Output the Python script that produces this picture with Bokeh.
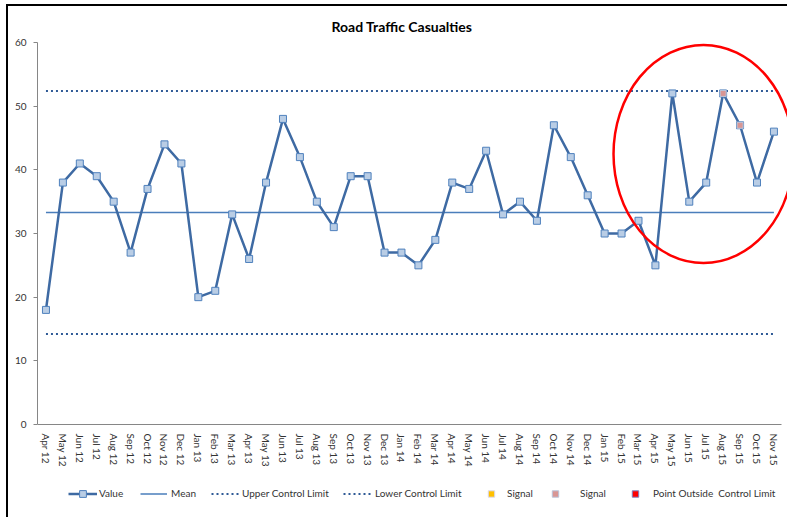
from bokeh.plotting import figure
from bokeh.models import Range1d, FixedTicker, Legend, LegendItem
from bokeh.embed import file_html
from bokeh.resources import INLINE

NAN = float("nan")

# ---- data -------------------------------------------------------------
months = ["Apr 12", "May 12", "Jun 12", "Jul 12", "Aug 12", "Sep 12", "Oct 12", "Nov 12", "Dec 12",
          "Jan 13", "Feb 13", "Mar 13", "Apr 13", "May 13", "Jun 13", "Jul 13", "Aug 13", "Sep 13",
          "Oct 13", "Nov 13", "Dec 13",
          "Jan 14", "Feb 14", "Mar 14", "Apr 14", "May 14", "Jun 14", "Jul 14", "Aug 14", "Sep 14",
          "Oct 14", "Nov 14", "Dec 14",
          "Jan 15", "Feb 15", "Mar 15", "Apr 15", "May 15", "Jun 15", "Jul 15", "Aug 15", "Sep 15",
          "Oct 15", "Nov 15"]
values = [18, 38, 41, 39, 35, 27, 37, 44, 41,
          20, 21, 33, 26, 38, 48, 42, 35, 31, 39, 39, 27,
          27, 25, 29, 38, 37, 43, 33, 35, 32, 47, 42, 36,
          30, 30, 32, 25, 52, 35, 38, 52, 47, 38, 46]
mean_value = 33.3
upper_limit = 52.4
lower_limit = 14.2
signal_months = ["Aug 15", "Sep 15"]          # pink "Signal" points
y_ticks = [0, 10, 20, 30, 40, 50, 60]

xs = list(range(len(months)))
mean_line = [mean_value] * len(months)
ucl_line = [upper_limit] * len(months)
lcl_line = [lower_limit] * len(months)
sig_x = [months.index(m) for m in signal_months]
sig_y = [values[i] for i in sig_x]
signal1_values = [NAN] * len(months)          # yellow "Signal" series: no points
outside_values = [NAN] * len(months)          # no point outside the limits

# ---- figure -----------------------------------------------------------
p = figure(width=781, height=513, output_backend="svg", toolbar_location=None,
           x_range=Range1d(-0.5, 43.92), y_range=Range1d(-14.92, 60),
           min_border_left=29, min_border_right=0, min_border_top=36, min_border_bottom=0,
           title="Road Traffic Casualties",
           styles={"margin-left": "6px", "margin-top": "4px",
                   "border-left": "2px solid #000000", "border-top": "2px solid #000000"})
p.outline_line_color = None
p.grid.visible = False
p.background_fill_color = "white"
p.border_fill_color = "white"

p.title.text_font = "Lato"
p.title.text_font_size = "14px"
p.title.text_font_style = "bold"
p.title.text_color = "#000000"
p.title.align = "left"
p.title.offset = 294
p.title.standoff = 16

FONT = "Lato"
TXT = "#333333"
AX = "#868686"

p.xaxis.fixed_location = 0
p.xaxis.ticker = FixedTicker(ticks=xs)
p.xaxis.major_label_overrides = {i: m for i, m in enumerate(months)}
p.xaxis.major_label_orientation = "vertical"
p.xaxis.major_tick_out = 0
p.xaxis.major_tick_in = 0
p.xaxis.minor_tick_out = 0
p.xaxis.minor_tick_in = 0
p.xaxis.major_label_standoff = 9
p.xaxis.axis_line_color = AX
p.xaxis.bounds = (-0.5, 43.45)
p.xaxis.major_label_text_font = FONT
p.xaxis.major_label_text_font_size = "10px"
p.xaxis.major_label_text_color = TXT

p.yaxis.ticker = FixedTicker(ticks=y_ticks)
p.yaxis.bounds = (0, 60)
p.yaxis.major_tick_out = 4
p.yaxis.major_tick_in = 0
p.yaxis.minor_tick_out = 0
p.yaxis.minor_tick_in = 0
p.yaxis.major_tick_line_color = AX
p.yaxis.axis_line_color = AX
p.yaxis.major_label_standoff = 7
p.yaxis.major_label_text_font = FONT
p.yaxis.major_label_text_font_size = "10px"
p.yaxis.major_label_text_color = TXT

# ---- glyphs -----------------------------------------------------------
r_mean = p.line(xs, mean_line, line_color="#4A7EBB", line_width=1.5)
r_ucl = p.line(xs, ucl_line, line_color="#2F5A96", line_width=2, line_dash="2 3")
r_lcl = p.line(xs, lcl_line, line_color="#2F5A96", line_width=2, line_dash="2 3")
r_val = p.line(xs, values, line_color="#3E6AA3", line_width=2.5)
r_pts = p.scatter(xs, values, marker="square", size=7, fill_color="#B9CDE5",
                  line_color="#4F81BD", line_width=1)
r_sig2 = p.scatter(sig_x, sig_y, marker="square", size=6, fill_color="#D99694",
                   line_color="#B9C4DA", line_width=1)
r_sig1 = p.scatter(xs, signal1_values, marker="square", size=6, fill_color="#FFC000",
                   line_color="#D9D9F0", line_width=1)
r_out = p.scatter(xs, outside_values, marker="square", size=6, fill_color="#FF0000",
                  line_color="#7F7FBF", line_width=1)

p.ellipse(x=38.84, y=42.5, width=10.63, height=34.24, fill_alpha=0,
          line_color="#FF0000", line_width=2.5)

# ---- legend (one per entry, placed like the original) ------------------
def add_legend(label, renderers, vx, gw, standoff):
    leg = Legend(items=[LegendItem(label=label, renderers=renderers)],
                 location=(vx, 17.5), orientation="horizontal",
                 padding=0, margin=0, spacing=0,
                 border_line_color=None, background_fill_alpha=0,
                 glyph_width=gw, glyph_height=17, label_height=17,
                 label_standoff=standoff, label_text_font=FONT,
                 label_text_font_size="10px", label_text_color=TXT)
    p.add_layout(leg)

add_legend("Value", [r_val, r_pts], 31, 29, 2)
add_legend("Mean", [r_mean], 103, 27, 4)
add_legend("Upper Control Limit", [r_ucl], 174, 29, 2)
add_legend("Lower Control Limit", [r_lcl], 306, 28, 4)
add_legend("Signal", [r_sig1], 446, 16, 8)
add_legend("Signal", [r_sig2], 510, 16, 17)
add_legend("Point Outside  Control Limit", [r_out], 590, 16, 10)

open("out.html", "w").write(file_html(p, INLINE))
